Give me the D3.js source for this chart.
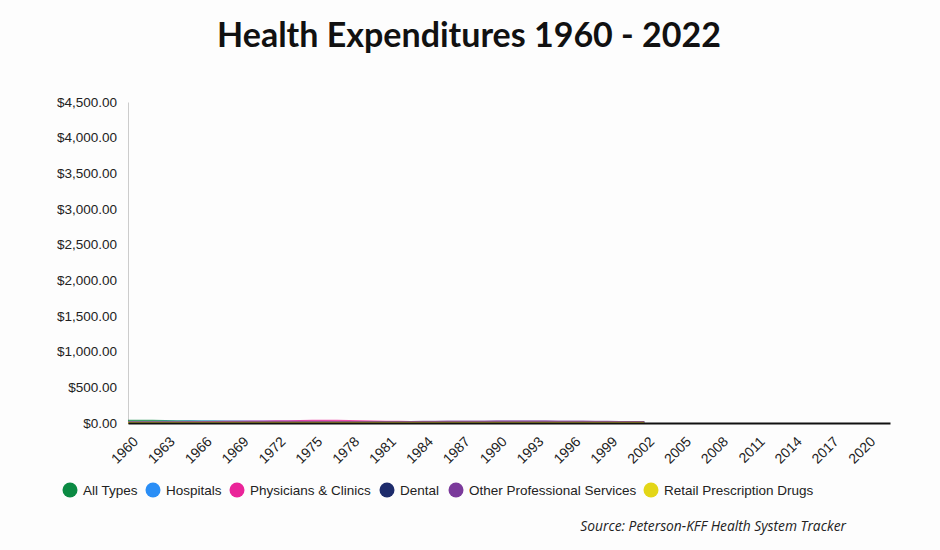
<!DOCTYPE html>
<html>
<head>
<meta charset="utf-8">
<script src="https://cdn.jsdelivr.net/npm/d3@7"></script>
<style>
  body { margin: 0; background: #fdfdfd; }
  svg { display: block; }
</style>
</head>
<body>
<div id="chart"></div>
<script>
// years shown on the axis, every third year
const tickYears = [1960, 1963, 1966, 1969, 1972, 1975, 1978, 1981, 1984, 1987, 1990,
  1993, 1996, 1999, 2002, 2005, 2008, 2011, 2014, 2017, 2020];
const yTicks = [0, 500, 1000, 1500, 2000, 2500, 3000, 3500, 4000, 4500];

// this frame of the chart: lines drawn from 1960 up to 2002, all hugging $0
const years = [1960, 1961, 1962, 1963, 1964, 1965, 1966, 1967, 1968, 1969, 1970,
  1971, 1972, 1973, 1974, 1975, 1976, 1977, 1978, 1979, 1980, 1981, 1982, 1983,
  1984, 1985, 1986, 1987, 1988, 1989, 1990, 1991, 1992, 1993, 1994, 1995, 1996,
  1997, 1998, 1999, 2000, 2001, 2002];

const allTypes = [30, 30, 30, 28, 26, 24, 22, 20, 18, 16, 15, 14, 14, 13, 12, 12, 12, 11, 11, 10,
  10, 10, 10, 10, 10, 10, 10, 10, 10, 10, 10, 10, 10, 10, 10, 10, 10, 10, 10, 10, 10, 10, 10];
const hospitals = [14, 14, 15, 16, 18, 20, 20, 20, 20, 20, 20, 20, 22, 22, 20, 18, 16, 14, 12, 12,
  12, 12, 12, 12, 12, 12, 12, 12, 12, 12, 12, 12, 12, 12, 12, 12, 12, 12, 12, 12, 12, 12, 12];
const physicians = [8, 8, 8, 8, 8, 10, 12, 14, 16, 18, 20, 22, 24, 26, 28, 30, 30, 30, 28, 26,
  22, 18, 16, 14, 14, 14, 14, 14, 14, 14, 14, 14, 14, 14, 14, 14, 14, 14, 14, 14, 14, 14, 14];
const dental = [4, 4, 4, 4, 4, 4, 4, 4, 4, 4, 6, 6, 6, 6, 6, 8, 8, 8, 8, 8,
  10, 10, 10, 10, 10, 10, 10, 12, 12, 12, 12, 12, 12, 12, 12, 12, 12, 12, 12, 12, 12, 12, 12];
const otherProf = [6, 6, 6, 6, 6, 6, 8, 10, 12, 14, 14, 14, 14, 14, 14, 14, 14, 14, 14, 14,
  14, 14, 14, 14, 16, 18, 20, 22, 22, 22, 24, 24, 24, 24, 24, 22, 22, 20, 18, 16, 14, 12, 10];
const retailDrugs = [2, 2, 2, 2, 2, 2, 2, 2, 2, 2, 2, 2, 2, 2, 2, 2, 2, 2, 2, 2,
  2, 2, 2, 2, 2, 2, 2, 2, 2, 2, 2, 2, 2, 2, 2, 2, 2, 2, 2, 2, 2, 2, 2];

const seriesNames = ["All Types", "Hospitals", "Physicians & Clinics", "Dental",
  "Other Professional Services", "Retail Prescription Drugs"];
const seriesValues = [allTypes, hospitals, physicians, dental, otherProf, retailDrugs];
const colors = ["#0b8a43", "#2a8ef6", "#ea2499", "#1d2b6b", "#7b3a9b", "#e3d617"];

let width = 940,
  height = 550,
  margin = ({ top: 102, right: 50, bottom: 127, left: 128 });

let x = d3.scaleLinear()
  .domain([1960, 2022])
  .range([margin.left, width - margin.right]);

let y = d3.scaleLinear()
  .domain([0, 4500])
  .range([height - margin.bottom, margin.top]);

const svg = d3.select("#chart")
  .append("svg")
  .attr("width", width)
  .attr("height", height)
  .attr("viewBox", [0, 0, width, height]);

svg.append("text")
  .attr("x", 469)
  .attr("y", 47)
  .attr("text-anchor", "middle")
  .attr("font-family", "Lato, sans-serif")
  .attr("font-weight", "bold")
  .attr("font-size", 34)
  .attr("fill", "#111")
  .text("Health Expenditures 1960 - 2022");

// y axis: thin grey line, no ticks
svg.append("g")
  .attr("transform", `translate(${margin.left},0)`)
  .call(d3.axisLeft(y).tickValues(yTicks).tickSize(0).tickPadding(11)
    .tickFormat(d => "$" + d3.format(",.2f")(d)))
  .call(g => g.select(".domain").attr("stroke", "#ccc"))
  .call(g => g.selectAll("text")
    .attr("font-family", "'Liberation Sans', Arial, sans-serif")
    .attr("font-size", 13.5)
    .attr("fill", "#222"));

// lines
let line = d3.line()
  .x((d, i) => x(years[i]))
  .y(d => y(d));

seriesValues.forEach((vals, k) => {
  svg.append("path")
    .datum(vals)
    .attr("fill", "none")
    .attr("stroke", colors[k])
    .attr("stroke-width", 2)
    .attr("opacity", 0.8)
    .attr("d", line);
});

// x axis
svg.append("g")
  .attr("transform", `translate(0,${height - margin.bottom})`)
  .call(d3.axisBottom(x).tickValues(tickYears).tickSize(0)
    .tickFormat(d3.format("d")))
  .call(g => g.select(".domain").attr("stroke", "#111").attr("stroke-width", 2))
  .call(g => g.selectAll("text")
    .attr("font-family", "'Liberation Sans', Arial, sans-serif")
    .attr("font-size", 14)
    .attr("fill", "#222")
    .attr("text-anchor", "end")
    .attr("x", 0)
    .attr("y", 0)
    .attr("dx", 0)
    .attr("dy", "0.35em")
    .attr("transform", "translate(7,16) rotate(-45)"));

// legend
const legendX = [70, 153, 237, 387, 456, 651];
const legend = svg.append("g")
  .selectAll("g")
  .data(seriesNames)
  .join("g")
  .attr("transform", (d, i) => `translate(${legendX[i]},490)`);

legend.append("circle")
  .attr("r", 7.5)
  .attr("fill", (d, i) => colors[i]);

legend.append("text")
  .attr("x", 13)
  .attr("dy", "0.35em")
  .attr("font-family", "'Liberation Sans', Arial, sans-serif")
  .attr("font-size", 13.5)
  .attr("fill", "#222")
  .text(d => d);

svg.append("text")
  .attr("x", 846)
  .attr("y", 531)
  .attr("text-anchor", "end")
  .attr("font-family", "'Open Sans', sans-serif")
  .attr("font-style", "italic")
  .attr("font-size", 13.8)
  .attr("fill", "#222")
  .text("Source: Peterson-KFF Health System Tracker");
</script>
</body>
</html>
